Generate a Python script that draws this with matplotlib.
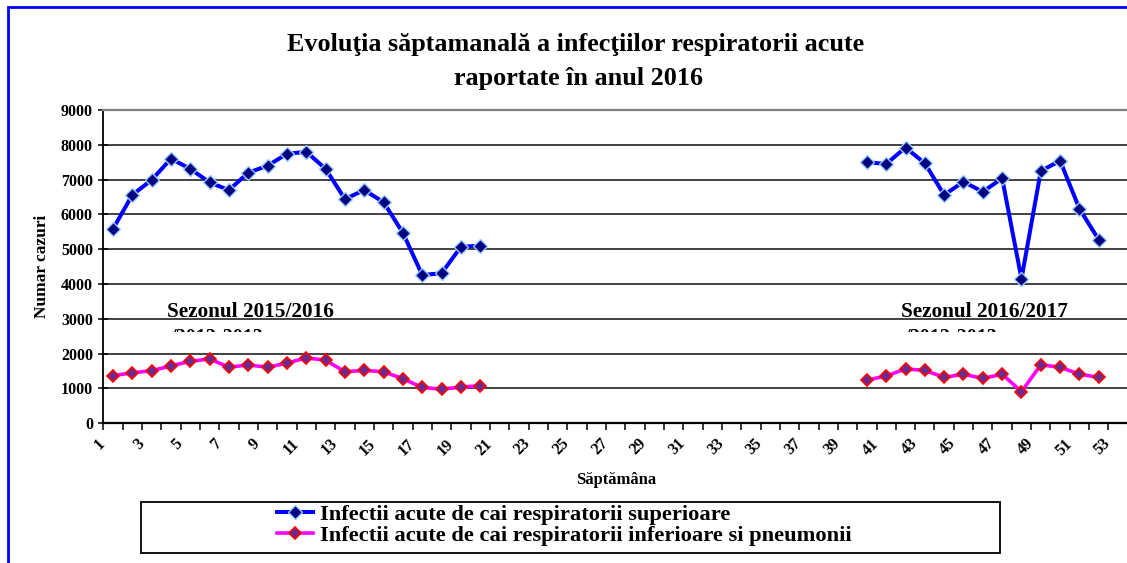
import matplotlib
matplotlib.use('Agg')
import matplotlib.pyplot as plt
from matplotlib.patches import Rectangle
from matplotlib.transforms import ScaledTranslation, Bbox, TransformedBbox
from matplotlib.lines import Line2D
from matplotlib.font_manager import FontProperties

# ---------------- data ----------------
weeks_2015_16 = list(range(1, 21))
upper_2015_16 = [5580, 6560, 6990, 7600, 7310, 6920, 6700, 7200, 7400, 7740,
                 7800, 7310, 6440, 6700, 6350, 5470, 4260, 4310, 5070, 5100]
lower_2015_16 = [1370, 1450, 1510, 1650, 1780, 1850, 1610, 1680, 1610, 1730,
                 1880, 1810, 1480, 1520, 1480, 1280, 1030, 980, 1040, 1080]
weeks_2016_17 = list(range(40, 53))
upper_2016_17 = [7500, 7450, 7920, 7470, 6560, 6940, 6650, 7040, 4150, 7250,
                 7540, 6160, 5270]
lower_2016_17 = [1240, 1360, 1560, 1520, 1320, 1410, 1290, 1410, 910, 1680,
                 1610, 1410, 1320]
x_tick_labels = [str(w) for w in range(1, 54, 2)]
x_tick_pos = list(range(1, 54, 2))
y_ticks = list(range(0, 10000, 1000))

series_labels = ["Infectii acute de cai respiratorii superioare",
                 "Infectii acute de cai respiratorii inferioare si pneumonii"]
title_l1 = "Evoluţia săptamanală a infecţiilor respiratorii acute"
title_l2 = "raportate în anul 2016"

# ---------------- figure ----------------
W, H = 1127, 563
plt.rcParams['font.family'] = ['Liberation Serif', 'DejaVu Serif']
plt.rcParams['font.weight'] = 'bold'
fig = plt.figure(figsize=(W / 100, H / 100), dpi=100)
fig.patch.set_facecolor('white')

def fx(x):
    return x / W

def fy(y):
    return 1 - y / H

ax = fig.add_axes([fx(103.3), fy(423.3), 1024.5 / W, 313.3 / H])
ax.set_xlim(0.5, 53.5)
ax.set_ylim(0, 9000)

blue_style = dict(color='#0000FF', lw=2.9, marker='D', markersize=7.5,
                  markerfacecolor='#000080', markeredgecolor='#99CCFF',
                  markeredgewidth=1.0, zorder=5)
mag_style = dict(color='#FF00FF', lw=2.6, marker='D', markersize=6,
                 markerfacecolor='#6a2a90', markeredgecolor='#FF0000',
                 markeredgewidth=1.2, zorder=4)

ax.plot(weeks_2015_16, upper_2015_16, **blue_style)
ax.plot(weeks_2016_17, upper_2016_17, **blue_style)
ax.plot(weeks_2015_16, lower_2015_16, **mag_style)
ax.plot(weeks_2016_17, lower_2016_17, **mag_style)

# grid & spines
ax.set_yticks(y_ticks)
ax.yaxis.grid(True, color='#222222', lw=1.2)
ax.set_axisbelow(True)
ax.spines['right'].set_visible(False)
ax.spines['top'].set_color('#808080')
ax.spines['top'].set_linewidth(1.6)
ax.spines['left'].set_color('black')
ax.spines['bottom'].set_color('black')
ax.spines['left'].set_linewidth(1.3)
ax.spines['bottom'].set_linewidth(1.6)

ax.tick_params(axis='y', direction='inout', length=7, width=1.1, pad=4,
               labelsize=11.5)
ax.set_xticks(x_tick_pos)
ax.set_xticklabels(x_tick_labels, rotation=45, ha='right', va='center',
                   rotation_mode='anchor', fontsize=11.5)
ax.set_xticks([k + 0.5 for k in range(0, 54)], minor=True)
ax.tick_params(axis='x', which='major', length=0, pad=13)
ax.tick_params(axis='x', which='minor', direction='out', length=5, width=1.1)
off = ScaledTranslation(-0.10, 0, fig.dpi_scale_trans)
for lab in ax.get_xticklabels():
    lab.set_transform(lab.get_transform() + off)
for lab in ax.get_yticklabels():
    lab.set_fontweight('bold')

ax.set_ylabel("Numar cazuri", fontsize=12.5, fontweight='bold', labelpad=8)
fig.text(fx(616), fy(480), "Săptămâna", ha='center', va='center',
         fontsize=12, fontweight='bold')

# title
fig.text(fx(576), fy(45), title_l1, ha='center', va='center',
         fontsize=18.8, fontweight='bold')
fig.text(fx(579), fy(79), title_l2, ha='center', va='center',
         fontsize=18.8, fontweight='bold')

# season annotations
fig.text(fx(167), fy(317), "Sezonul 2015/2016", ha='left', va='baseline',
         fontsize=15.3, fontweight='bold')
fig.text(fx(901), fy(317), "Sezonul 2016/2017", ha='left', va='baseline',
         fontsize=15.3, fontweight='bold')
clip = TransformedBbox(Bbox([[0, fy(332)], [1, fy(320)]]), fig.transFigure)
for xx in (170, 904):
    t = fig.text(fx(xx), fy(328), "/2012-2013", ha='left', va='top',
                 fontsize=14.5, fontweight='bold')
    t.set_clip_box(clip)
    t.set_clip_on(True)

# legend
leg_font = FontProperties(family='Liberation Serif', weight='bold', size=16.2)
handles = [Line2D([], [], **{k: v for k, v in blue_style.items() if k != 'zorder'}),
           Line2D([], [], **{k: v for k, v in mag_style.items() if k != 'zorder'})]
fig.legend(handles, series_labels, loc='upper left',
           bbox_to_anchor=(fx(277), fy(504)), frameon=False,
           borderaxespad=0, borderpad=0, handlelength=1.6,
           handletextpad=0.3, labelspacing=0.0, prop=leg_font)
fig.add_artist(Rectangle((fx(141), fy(553)), (1000 - 141) / W, 51 / H,
                         transform=fig.transFigure, fill=False,
                         ec='black', lw=1.3))

# blue outer frame
fig.add_artist(Rectangle((fx(7.5), -0.1), 1.2, fy(7.5) + 0.1,
                         transform=fig.transFigure, fill=False,
                         ec='#0000FF', lw=2.0, clip_on=False))

fig.savefig('out.png', dpi=100)
